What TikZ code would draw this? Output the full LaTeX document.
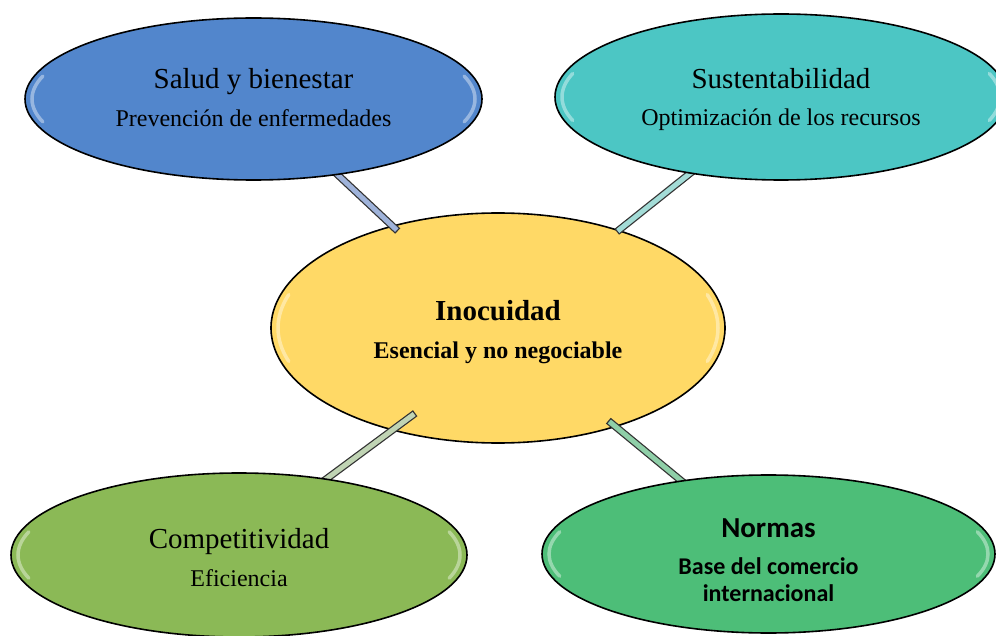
\documentclass[tikz,border=0pt]{standalone}
\usepackage{fontspec}
\setmainfont{Liberation Serif}
\newfontfamily\calib{Carlito}
\usetikzlibrary{shapes.geometric,calc}
\pgfdeclarelayer{bottom}
\pgfdeclarelayer{middle}
\pgfsetlayers{bottom,middle,main}
\definecolor{cblue}{HTML}{5286CC}
\definecolor{cteal}{HTML}{4CC6C4}
\definecolor{cyellow}{HTML}{FFD966}
\definecolor{cgreenA}{HTML}{8BB956}
\definecolor{cgreenB}{HTML}{4DBE78}
\definecolor{barTL}{HTML}{9FB3DA}
\definecolor{barTR}{HTML}{A3DCD7}
\definecolor{barBL}{HTML}{C0D4B4}
\definecolor{barBR}{HTML}{8FCFA8}
\newcommand\myrim[3]{%
  \draw[rimst] ([shift={(162:{#2-7} and {#3-7})}]#1.center) arc[start angle=162,end angle=198,x radius={#2-7},y radius={#3-7}];
  \draw[rimst] ([shift={(-18:{#2-7} and {#3-7})}]#1.center) arc[start angle=-18,end angle=18,x radius={#2-7},y radius={#3-7}];}
\newcommand\drawbar[5]{%
  \draw[line width=7.5pt, black!80, shorten <=-6pt, shorten >=-#4] (#1) -- (#2);
  \draw[line width=5pt, #3, shorten <=-6pt, shorten >=-#5] (#1) -- (#2);}
\begin{document}
\begin{tikzpicture}[x=1pt,y=-1pt,
  ell/.style={ellipse, draw=black, line width=1.6pt, inner sep=0pt, align=center},
  rimst/.style={white, opacity=0.4, line width=3.5pt, line cap=round}]
\begin{pgfonlayer}{bottom}
\fill[white] (0,0) rectangle (996,636);
\end{pgfonlayer}
\useasboundingbox (0,0) rectangle (996,636);

\begin{pgfonlayer}{bottom}
\node[ell, fill=cyellow, minimum width=454pt, minimum height=230pt,
      font=\bfseries\fontsize{24}{38}\selectfont] (inoc) at (498,328)
  {\rule{0pt}{29pt}{\fontsize{29}{38}\selectfont Inocuidad}\\Esencial y no negociable};
\myrim{inoc}{227}{115}
\end{pgfonlayer}

\node[ell, fill=cblue, minimum width=457pt, minimum height=162pt,
      font=\fontsize{24}{38}\selectfont] (salud) at (253.5,99)
  {{\fontsize{29}{38}\selectfont Salud y bienestar}\\Prevención de enfermedades\rule[-4pt]{0pt}{4pt}};
\myrim{salud}{228.5}{81}

\node[ell, fill=cteal, minimum width=452pt, minimum height=166pt,
      font=\fontsize{24}{37}\selectfont] (sust) at (781,97)
  {\rule{0pt}{26pt}{\fontsize{29}{37}\selectfont Sustentabilidad}\\Optimización de los recursos};
\myrim{sust}{226}{83}

\node[ell, fill=cgreenA, minimum width=456pt, minimum height=164pt,
      font=\fontsize{24}{38}\selectfont] (comp) at (239,555)
  {\rule{0pt}{26pt}{\fontsize{29}{38}\selectfont Competitividad}\\Eficiencia};
\myrim{comp}{228}{82}

\node[ell, fill=cgreenB, minimum width=453pt, minimum height=158pt,
      font=\calib\bfseries\fontsize{24}{27}\selectfont] (normas) at (768.5,554)
  {\rule{0pt}{31pt}{\fontsize{29}{27}\selectfont Normas}\\[10pt]Base del comercio\\internacional};
\myrim{normas}{226.5}{79}

\begin{pgfonlayer}{middle}
\drawbar{salud.-42}{inoc.136}{barTL}{8pt}{6.7pt}
\drawbar{sust.-140}{inoc.39}{barTR}{3pt}{1.7pt}
\drawbar{normas.140}{inoc.-40}{barBR}{10pt}{8.7pt}
\drawbar{comp.41}{inoc.-136}{barBL}{29pt}{27.7pt}
\end{pgfonlayer}
\end{tikzpicture}
\end{document}
